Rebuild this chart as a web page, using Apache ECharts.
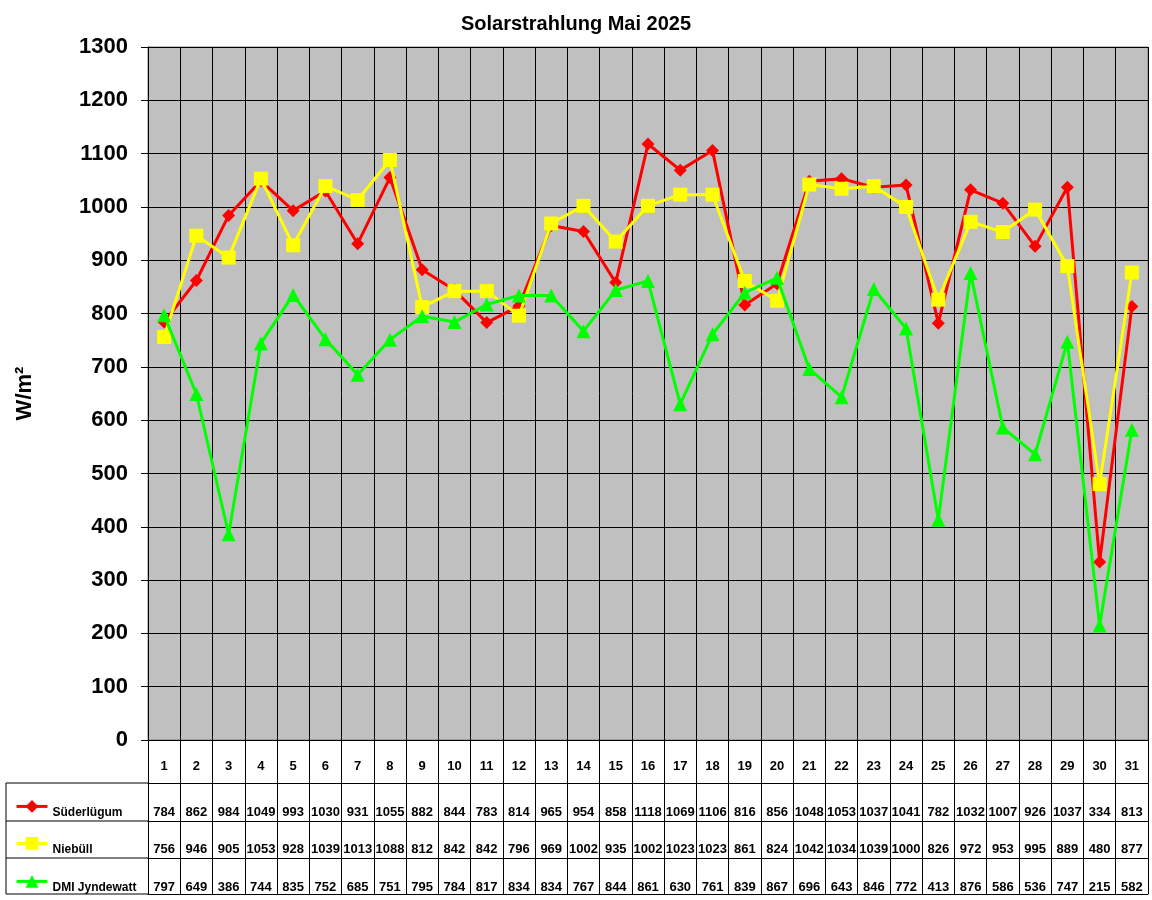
<!doctype html>
<html>
<head>
<meta charset="UTF-8">
<title>Solarstrahlung Mai 2025</title>
<script src="https://cdn.jsdelivr.net/npm/echarts@6/dist/echarts.min.js"></script>
<style>
	html, body { margin: 0; padding: 0; background: #fff; }
	#chart { width: 1152px; height: 900px; }
</style>
</head>
<body>
<div id="chart"></div>
<script type="text/javascript">
	// Tage im Mai
	var days = ['1', '2', '3', '4', '5', '6', '7', '8', '9', '10', '11', '12', '13', '14', '15', '16',
		'17', '18', '19', '20', '21', '22', '23', '24', '25', '26', '27', '28', '29', '30', '31'];

	// W/m² je Station
	var suederluegum = [784, 862, 984, 1049, 993, 1030, 931, 1055, 882, 844, 783, 814, 965, 954, 858, 1118,
		1069, 1106, 816, 856, 1048, 1053, 1037, 1041, 782, 1032, 1007, 926, 1037, 334, 813];
	var niebuell = [756, 946, 905, 1053, 928, 1039, 1013, 1088, 812, 842, 842, 796, 969, 1002, 935, 1002,
		1023, 1023, 861, 824, 1042, 1034, 1039, 1000, 826, 972, 953, 995, 889, 480, 877];
	var jyndewatt = [797, 649, 386, 744, 835, 752, 685, 751, 795, 784, 817, 834, 834, 767, 844, 861,
		630, 761, 839, 867, 696, 643, 846, 772, 413, 876, 586, 536, 747, 215, 582];

	var seriesNames = ['Süderlügum', 'Niebüll', 'DMI Jyndewatt'];
	var seriesColors = ['#FF0000', '#FFFF00', '#00FF00'];
	var seriesSymbols = ['diamond', 'rect', 'triangle'];
	var seriesData = [suederluegum, niebuell, jyndewatt];

	var FONT = 'Liberation Sans, Arial, sans-serif';

	var chart = echarts.init(document.getElementById('chart'));

	// Tabellenzeile unter dem Diagramm als zusaetzliche x-Achse
	function tableAxis(values, offset, tickLen, margin) {
		return {
			type: 'category',
			data: days,
			gridIndex: 0,
			position: 'bottom',
			offset: offset,
			axisLine: { show: true, lineStyle: { color: '#000', width: 1 } },
			axisTick: { show: tickLen > 0, interval: 0, length: tickLen, lineStyle: { color: '#000' } },
			axisLabel: {
				show: values !== null,
				interval: 0,
				margin: margin,
				color: '#000',
				fontFamily: FONT,
				fontWeight: 'bold',
				fontSize: 13,
				formatter: function(v, i) { return values ? String(values[i]) : ''; }
			},
			splitLine: { show: false }
		};
	}

	var xAxes = [{
		type: 'category',
		data: days,
		axisLine: { show: true, lineStyle: { color: '#000', width: 1 } },
		axisTick: { show: true, interval: 0, length: 43, lineStyle: { color: '#000' } },
		axisLabel: {
			interval: 0,
			margin: 20,
			color: '#000',
			fontFamily: FONT,
			fontWeight: 'bold',
			fontSize: 13
		},
		splitLine: { show: true, interval: 0, lineStyle: { color: '#000', width: 1 } }
	},
		tableAxis(suederluegum, 43, 38, 23),
		tableAxis(niebuell, 81, 37, 22),
		tableAxis(jyndewatt, 118, 36, 23),
		tableAxis(null, 154, 0, 0)
	];

	var series = [];
	var legends = [];
	for(var i = 0; i < seriesNames.length; i++) {
		series.push({
			name: seriesNames[i],
			type: 'line',
			xAxisIndex: 0,
			data: seriesData[i],
			symbol: seriesSymbols[i],
			symbolSize: i == 0 ? 13 : 14,
			showAllSymbol: true,
			lineStyle: { color: seriesColors[i], width: 3 },
			itemStyle: { color: seriesColors[i] },
			emphasis: { disabled: true },
			z: 2 + i
		});
		legends.push({
			data: [seriesNames[i]],
			orient: 'vertical',
			left: 10,
			top: [795, 832, 870][i],
			itemWidth: 31,
			itemHeight: 16,
			itemGap: 4,
			selectedMode: false,
			lineStyle: { width: 3 },
			formatter: function(name) { return '{t|' + name + '}'; },
			textStyle: {
				color: '#000', fontFamily: FONT, fontWeight: 'bold', fontSize: 12,
				rich: { t: { color: '#000', fontFamily: FONT, fontWeight: 'bold', fontSize: 12, padding: [12, 0, 0, 0] } }
			}
		});
	}

	var option = {
		animation: false,
		backgroundColor: '#fff',
		title: {
			text: 'Solarstrahlung Mai 2025',
			left: 'center',
			top: 9,
			textStyle: { color: '#000', fontFamily: FONT, fontWeight: 'bold', fontSize: 20 }
		},
		legend: legends,
		grid: {
			left: 148,
			right: 4,
			top: 47,
			bottom: 160,
			show: true,
			backgroundColor: '#C0C0C0',
			borderColor: '#808080',
			borderWidth: 1
		},
		xAxis: xAxes,
		yAxis: {
			type: 'value',
			min: 0,
			max: 1300,
			interval: 100,
			name: 'W/m²',
			nameLocation: 'middle',
			nameRotate: 90,
			nameGap: 112,
			nameTextStyle: { color: '#000', fontFamily: FONT, fontWeight: 'bold', fontSize: 22 },
			axisLine: { show: true, lineStyle: { color: '#000', width: 1 } },
			axisTick: { show: true, length: 7, lineStyle: { color: '#000' } },
			axisLabel: {
				color: '#000', fontFamily: FONT, fontWeight: 'bold', fontSize: 22, margin: 20,
				formatter: function(v) { return String(v); }
			},
			splitLine: { show: true, lineStyle: { color: '#000', width: 1 } }
		},
		series: series,
		// linke Tabellenspalte (Rahmen der Legende)
		graphic: [
			{ type: 'line', shape: { x1: 6, y1: 783, x2: 148, y2: 783 }, style: { stroke: '#000', lineWidth: 1 } },
			{ type: 'line', shape: { x1: 6, y1: 821, x2: 148, y2: 821 }, style: { stroke: '#000', lineWidth: 1 } },
			{ type: 'line', shape: { x1: 6, y1: 858, x2: 148, y2: 858 }, style: { stroke: '#000', lineWidth: 1 } },
			{ type: 'line', shape: { x1: 6, y1: 894, x2: 148, y2: 894 }, style: { stroke: '#000', lineWidth: 1 } },
			{ type: 'line', shape: { x1: 6, y1: 783, x2: 6, y2: 894 }, style: { stroke: '#000', lineWidth: 1 } }
		]
	};

	chart.setOption(option);
</script>
</body>
</html>
